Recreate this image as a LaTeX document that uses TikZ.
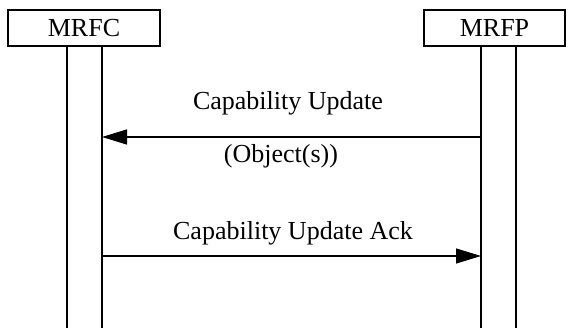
\documentclass[tikz,border=0pt]{standalone}
\usepackage{fontspec}
\setmainfont{Liberation Serif}
\usepackage{xcolor}
\usetikzlibrary{arrows.meta}
\definecolor{ink}{HTML}{000000}
\tikzset{
  entity/.style={draw=ink, line width=1.3pt, minimum height=36pt, inner sep=0pt, font=\fontsize{26}{30}\selectfont},
  life/.style={draw=ink, line width=1.3pt},
  msg/.style={draw=ink, line width=1.3pt, -{Triangle[length=25pt,width=15pt]}},
  lab/.style={text=ink, anchor=base, inner sep=0pt, font=\fontsize{26}{30}\selectfont},
}
\begin{document}
\begin{tikzpicture}[x=1pt,y=-1pt]
  \useasboundingbox (0,0) rectangle (568,328);
  % entities
  \node[entity, minimum width=152pt] (mrfc) at (84,28) {MRFC};
  \node[entity, minimum width=141pt] (mrfp) at (494.5,28) {MRFP};
  % lifelines
  \foreach \X/\x in {fa/67,fb/102,pa/481,pb/516} {
    \coordinate (\X top) at (\x,46);
    \coordinate (\X bot) at (\x,328);
    \draw[life] (\X top) -- (\X bot);
  }
  \coordinate (m1s) at (481,137);
  \coordinate (m1e) at (102,137);
  \coordinate (m2s) at (102,256);
  \coordinate (m2e) at (481,256);
  % messages
  \draw[msg] (m1s) -- (m1e);
  \node[lab] (upd) at (288,110) {Capability Update};
  \node[lab] (obj) at (281,163) {(Object(s))};
  \draw[msg] (m2s) -- (m2e);
  \node[lab] (ack) at (293,240) {Capability Update Ack};
\end{tikzpicture}
\end{document}
